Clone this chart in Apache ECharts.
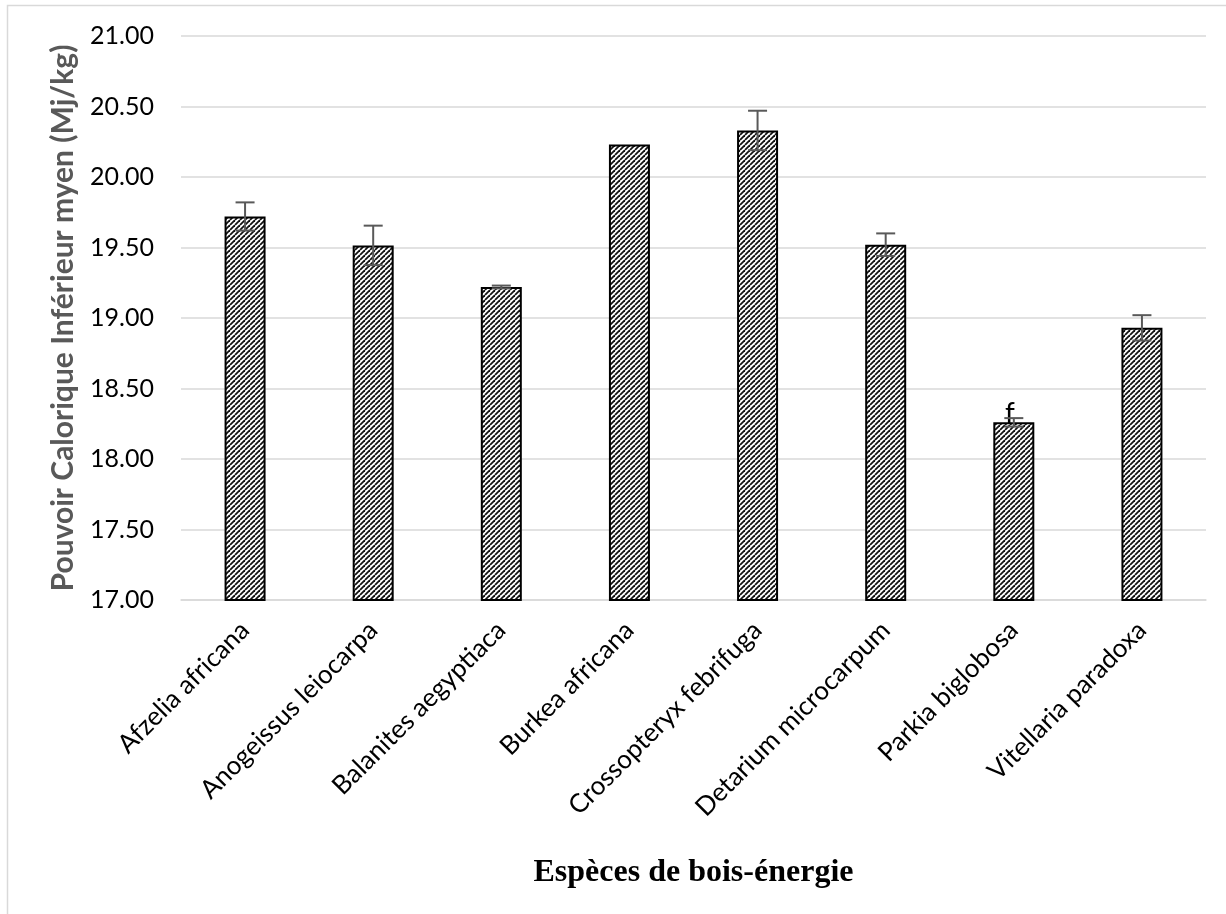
<!DOCTYPE html>
<html><head><meta charset="utf-8">
<script src="https://cdn.jsdelivr.net/npm/echarts@6/dist/echarts.min.js"></script>
<style>html,body{margin:0;padding:0;background:#fff}#c{width:1226px;height:914px}</style>
</head><body><div id="c"></div>
<script>
const categories = ['Afzelia africana','Anogeissus leiocarpa','Balanites aegyptiaca','Burkea africana','Crossopteryx febrifuga','Detarium microcarpum','Parkia biglobosa','Vitellaria paradoxa'];
const values = [19.72, 19.515, 19.22, 20.23, 20.33, 19.52, 18.26, 18.93];
const errors = [0.10, 0.14, 0.01, 0.0, 0.14, 0.08, 0.03, 0.09];
const letters = ['', '', '', '', '', '', 'f', ''];
const yTicks = [17, 17.5, 18, 18.5, 19, 19.5, 20, 20.5, 21];

const pc = document.createElement('canvas');
pc.width = 5; pc.height = 5;
const g = pc.getContext('2d');
g.fillStyle = '#fff'; g.fillRect(0,0,5,5);
g.strokeStyle = '#111'; g.lineWidth = 1.8;
for (let k = -5; k <= 10; k += 5) { g.beginPath(); g.moveTo(k, 5); g.lineTo(k + 5, 0); g.stroke(); }

const chart = echarts.init(document.getElementById('c'));
const font = 'Lato, "Noto Sans", sans-serif';
chart.setOption({
  animation: false,
  graphic: [{type:'rect', shape:{x:7.5,y:5.5,width:1240,height:1000}, style:{fill:'none', stroke:'#d9d9d9', lineWidth:1.5}, silent:true}],
  grid: {left: 181, right: 20, top: 36, bottom: 314},
  xAxis: {
    type: 'category', data: categories,
    axisLine: {lineStyle: {color: '#d9d9d9', width: 1.5}},
    axisTick: {show: false},
    axisLabel: {rotate: 45, fontSize: 26, color: '#000', fontFamily: font, margin: 26, interval: 0},
    name: 'Espèces de bois-énergie', nameLocation: 'middle', nameGap: 257,
    nameTextStyle: {fontFamily: '"Liberation Serif", "Times New Roman", serif', fontWeight: 'bold', fontSize: 32, color: '#000'}
  },
  yAxis: {
    type: 'value', min: 17, max: 21, interval: 0.5,
    axisLine: {show: false}, axisTick: {show: false},
    splitLine: {lineStyle: {color: '#d9d9d9', width: 1.5}},
    axisLabel: {fontSize: 25, color: '#000', fontFamily: font, margin: 27, formatter: v => v.toFixed(2)},
    name: 'Pouvoir Calorique Inférieur myen (Mj/kg)', nameLocation: 'middle', nameGap: 103,
    nameTextStyle: {fontFamily: font, fontWeight: 'bold', fontSize: 30, color: '#595959'}
  },
  series: [
    {
      type: 'bar', data: values, barWidth: 41,
      itemStyle: {color: {image: pc, repeat: 'repeat'}, borderColor: '#000', borderWidth: 2},
      label: {show: true, position: 'top', distance: -6, offset: [-4, 0], fontSize: 28, fontFamily: font, color: '#000',
        formatter: p => letters[p.dataIndex]}
    },
    {
      type: 'custom', z: 10,
      data: values.map((v, i) => [i, v - errors[i], v + errors[i]]),
      renderItem: (params, api) => {
        if (api.value(2) - api.value(1) <= 0) return null;
        const lo = api.coord([api.value(0), api.value(1)]);
        const hi = api.coord([api.value(0), api.value(2)]);
        const w = 9.5;
        const st = {stroke: '#595959', lineWidth: 2};
        return {type: 'group', children: [
          {type: 'line', shape: {x1: lo[0], y1: lo[1], x2: hi[0], y2: hi[1]}, style: st},
          {type: 'line', shape: {x1: lo[0]-w, y1: lo[1], x2: lo[0]+w, y2: lo[1]}, style: st},
          {type: 'line', shape: {x1: hi[0]-w, y1: hi[1], x2: hi[0]+w, y2: hi[1]}, style: st}
        ]};
      }
    }
  ]
});
</script></body></html>
